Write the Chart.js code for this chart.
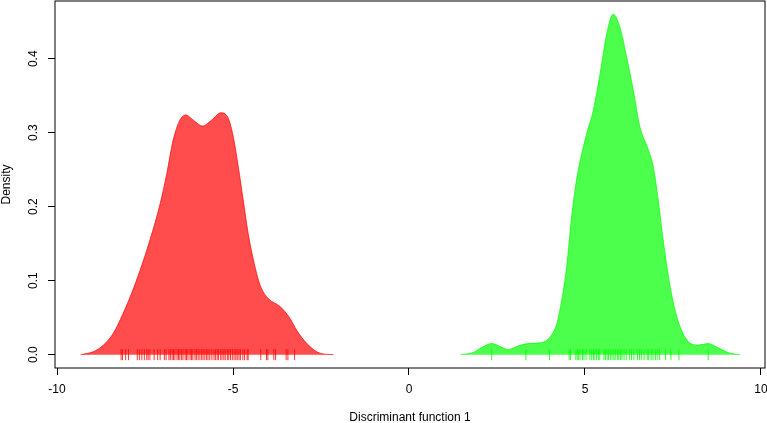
<!DOCTYPE html>
<html>
<head>
<meta charset="utf-8">
<script src="https://cdn.jsdelivr.net/npm/chart.js@4.4.1/dist/chart.umd.min.js"></script>
<style>
  html, body { margin: 0; padding: 0; background: #ffffff; }
  #wrap { width: 767px; height: 423px; position: relative; }
</style>
</head>
<body>
<div id="wrap"><canvas id="c" width="767" height="423"></canvas></div>
<script>
// ---- Data ----
const xTicks = [-10, -5, 0, 5, 10];
const xTickLabels = ['-10', '-5', '0', '5', '10'];
const yTicks = [0, 0.1, 0.2, 0.3, 0.4];
const yTickLabels = ['0.0', '0.1', '0.2', '0.3', '0.4'];

// Group 1 (red) density curve
const redX = [-9.33, -8.97, -8.68, -8.40, -8.12, -7.88, -7.64, -7.36, -7.07, -6.88, -6.70, -6.51, -6.34, -6.13, -5.86, -5.61, -5.34, -5.13, -4.99, -4.85, -4.71, -4.57, -4.42, -4.23, -4.00, -3.66, -3.38, -3.19, -2.90, -2.53, -2.15];
const redY = [0.000, 0.004, 0.013, 0.029, 0.056, 0.083, 0.114, 0.155, 0.204, 0.245, 0.290, 0.317, 0.324, 0.317, 0.309, 0.317, 0.327, 0.319, 0.294, 0.254, 0.209, 0.164, 0.128, 0.094, 0.076, 0.065, 0.049, 0.033, 0.015, 0.002, 0.000];

// Group 2 (green) density curve
const greenX = [1.47, 1.83, 2.11, 2.35, 2.59, 2.82, 3.11, 3.39, 3.72, 4.01, 4.20, 4.34, 4.48, 4.62, 4.76, 4.91, 5.05, 5.24, 5.43, 5.62, 5.80, 5.99, 6.18, 6.37, 6.56, 6.80, 6.94, 7.08, 7.22, 7.37, 7.51, 7.70, 7.93, 8.22, 8.50, 8.79, 9.12, 9.40];
const greenY = [0.000, 0.003, 0.011, 0.015, 0.011, 0.007, 0.012, 0.015, 0.016, 0.024, 0.042, 0.074, 0.119, 0.186, 0.236, 0.272, 0.299, 0.331, 0.380, 0.434, 0.460, 0.443, 0.403, 0.358, 0.308, 0.277, 0.254, 0.209, 0.155, 0.106, 0.070, 0.038, 0.018, 0.013, 0.015, 0.009, 0.002, 0.000];

// Rug (individual scores)
const redRug = [-8.18, -8.14, -8.05, -7.97, -7.72, -7.66, -7.59, -7.52, -7.45, -7.41, -7.36, -7.24, -7.14, -7.07, -6.95, -6.90, -6.82, -6.78, -6.73, -6.69, -6.65, -6.59, -6.55, -6.51, -6.46, -6.42, -6.36, -6.32, -6.28, -6.22, -6.18, -6.14, -6.08, -6.04, -5.99, -5.94, -5.89, -5.85, -5.80, -5.75, -5.71, -5.66, -5.60, -5.54, -5.50, -5.45, -5.41, -5.35, -5.31, -5.26, -5.22, -5.16, -5.12, -5.07, -5.02, -4.97, -4.92, -4.88, -4.83, -4.79, -4.72, -4.67, -4.60, -4.57, -4.21, -4.05, -4.01, -3.84, -3.79, -3.49, -3.44, -3.25];
const greenRug = [2.35, 3.32, 3.99, 4.55, 4.59, 4.74, 4.78, 4.82, 4.86, 4.93, 4.97, 5.03, 5.14, 5.19, 5.24, 5.28, 5.33, 5.38, 5.42, 5.54, 5.58, 5.63, 5.67, 5.73, 5.77, 5.82, 5.86, 5.92, 5.96, 6.01, 6.05, 6.11, 6.17, 6.27, 6.32, 6.39, 6.49, 6.55, 6.60, 6.68, 6.77, 6.81, 6.88, 6.93, 7.00, 7.05, 7.12, 7.29, 7.44, 7.67, 8.50];

const xLabel = 'Discriminant function 1';
const yLabel = 'Density';

// ---- Build chart ----
const toPts = (xs, ys) => xs.map((x, i) => ({ x: x, y: ys[i] }));
const rugPts = xs => xs.map(x => ({ x: x, y: 0 }));
const FONT = '"Liberation Sans", Arial, Helvetica, sans-serif';

const customLabels = {
  id: 'customLabels',
  afterDraw(chart) {
    const ctx = chart.ctx;
    const xs = chart.scales.x, ys = chart.scales.y;
    const a = chart.chartArea;
    ctx.save();
    // plot box
    ctx.strokeStyle = '#000';
    ctx.lineWidth = 1;
    ctx.strokeRect(a.left, a.top, a.right - a.left, a.bottom - a.top);
    ctx.fillStyle = '#000';
    ctx.font = '12px ' + FONT;
    // x tick labels
    ctx.textAlign = 'center';
    ctx.textBaseline = 'middle';
    xTicks.forEach((v, i) => {
      ctx.fillText(xTickLabels[i], xs.getPixelForValue(v), 390);
    });
    // y tick labels (rotated)
    yTicks.forEach((v, i) => {
      const py = ys.getPixelForValue(v);
      ctx.save();
      ctx.translate(34, py);
      ctx.rotate(-Math.PI / 2);
      ctx.fillText(yTickLabels[i], 0, 0);
      ctx.restore();
    });
    // axis titles
    ctx.fillText(xLabel, (a.left + a.right) / 2, 418);
    ctx.save();
    ctx.translate(7, (a.top + a.bottom) / 2);
    ctx.rotate(-Math.PI / 2);
    ctx.fillText(yLabel, 0, 0);
    ctx.restore();
    ctx.restore();
  }
};

new Chart(document.getElementById('c'), {
  type: 'line',
  data: {
    datasets: [
      {
        data: toPts(redX, redY),
        backgroundColor: 'rgba(255,0,0,0.7)',
        borderColor: 'rgba(255,0,0,0.7)',
        borderWidth: 1,
        fill: 'origin',
        pointRadius: 0,
        cubicInterpolationMode: 'monotone',
        order: 2
      },
      {
        data: toPts(greenX, greenY),
        backgroundColor: 'rgba(0,255,0,0.7)',
        borderColor: 'rgba(0,255,0,0.7)',
        borderWidth: 1,
        fill: 'origin',
        pointRadius: 0,
        cubicInterpolationMode: 'monotone',
        order: 2
      },
      {
        data: rugPts(redRug),
        showLine: false,
        pointStyle: 'line',
        rotation: 90,
        pointRadius: 5.5,
        pointBorderWidth: 1,
        pointBorderColor: 'rgba(255,0,0,0.8)',
        pointBackgroundColor: 'rgba(255,0,0,0.8)',
        order: 1
      },
      {
        data: rugPts(greenRug),
        showLine: false,
        pointStyle: 'line',
        rotation: 90,
        pointRadius: 5.5,
        pointBorderWidth: 1,
        pointBorderColor: 'rgba(0,255,0,0.8)',
        pointBackgroundColor: 'rgba(0,255,0,0.8)',
        order: 1
      }
    ]
  },
  options: {
    responsive: false,
    animation: false,
    events: [],
    layout: { autoPadding: false, padding: { top: 1, right: 2, left: 0, bottom: 0 } },
    plugins: { legend: { display: false }, tooltip: { enabled: false } },
    scales: {
      x: {
        type: 'linear',
        min: -10.057,
        max: 10.114,
        afterBuildTicks: s => { s.ticks = xTicks.map(v => ({ value: v })); },
        afterFit: s => { s.height = 55; },
        ticks: { display: false },
        border: { display: false },
        grid: { display: true, drawOnChartArea: false, drawTicks: true, tickLength: 7, color: '#000', lineWidth: 1 }
      },
      y: {
        type: 'linear',
        min: -0.018,
        max: 0.478,
        afterBuildTicks: s => { s.ticks = yTicks.map(v => ({ value: v })); },
        afterFit: s => { s.width = 55; },
        ticks: { display: false },
        border: { display: false },
        grid: { display: true, drawOnChartArea: false, drawTicks: true, tickLength: 7, color: '#000', lineWidth: 1 }
      }
    }
  },
  plugins: [customLabels]
});
</script>
</body>
</html>
